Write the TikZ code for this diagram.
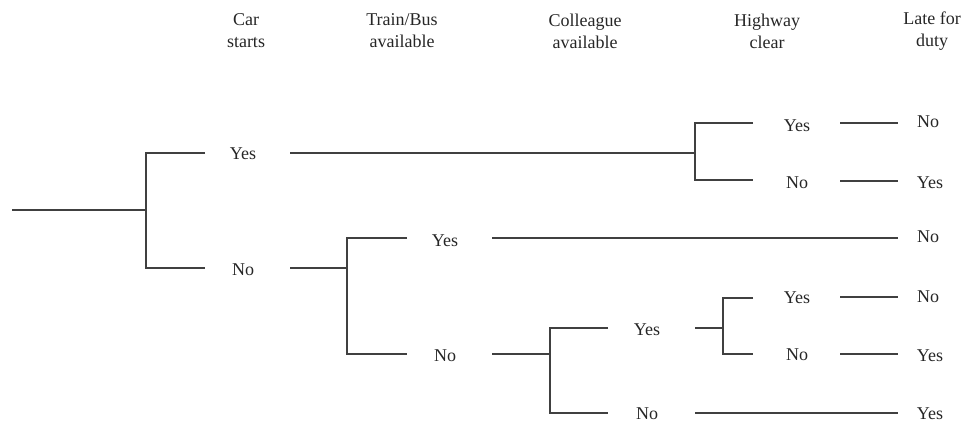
\documentclass[tikz,border=0pt]{standalone}
\usepackage{fontspec}
\setmainfont{Liberation Serif}
\begin{document}
\begin{tikzpicture}[x=1pt,y=-1pt,
  lbl/.style={inner sep=0pt, font=\fontsize{18}{22}\selectfont, text=black!85},
  hdr/.style={inner sep=0pt, align=center, font=\fontsize{18}{22}\selectfont, text=black!85},
  ln/.style={draw=black!75, line width=1.5pt}]
\useasboundingbox (0,0) rectangle (966,427);
% headers
\node[hdr] (h1) at (246,31) {Car\\starts};
\node[hdr] (h2) at (402,31) {Train/Bus\\available};
\node[hdr] (h3) at (585,31) {Colleague\\available};
\node[hdr] (h4) at (767,31) {Highway\\clear};
\node[hdr] (h5) at (932,31) {Late for\\duty};
% labels
\node[lbl] (cy) at (243,154) {Yes};
\node[lbl] (cn) at (243,270) {No};
\node[lbl] (ty) at (445,241) {Yes};
\node[lbl] (tn) at (445,356) {No};
\node[lbl] (oy) at (647,330) {Yes};
\node[lbl] (on) at (647,414) {No};
\node[lbl] (hy1) at (797,126) {Yes};
\node[lbl] (hn1) at (797,183) {No};
\node[lbl] (hy2) at (797,298) {Yes};
\node[lbl] (hn2) at (797,355) {No};
\node[lbl] (r1) at (928,122) {No};
\node[lbl] (r2) at (930,183) {Yes};
\node[lbl] (r3) at (928,237) {No};
\node[lbl] (r4) at (928,297) {No};
\node[lbl] (r5) at (930,356) {Yes};
\node[lbl] (r6) at (930,414) {Yes};
% coordinates
\coordinate (root) at (12,210);
\coordinate (j1) at (146,210);
\coordinate (j1a) at (146,153);
\coordinate (j1b) at (146,268);
\coordinate (e1a) at (205,153);
\coordinate (e1b) at (205,268);
% car yes -> highway
\coordinate (s2) at (290,153);
\coordinate (j2) at (695,153);
\coordinate (j2a) at (695,123);
\coordinate (j2b) at (695,180);
\coordinate (e2a) at (753,123);
\coordinate (e2b) at (753,180);
\coordinate (s3a) at (840,123);
\coordinate (t3a) at (898,123);
\coordinate (s3b) at (840,181);
\coordinate (t3b) at (898,181);
% car no -> train
\coordinate (s4) at (290,268);
\coordinate (j4) at (347,268);
\coordinate (j4a) at (347,238);
\coordinate (j4b) at (347,354);
\coordinate (e4a) at (407,238);
\coordinate (e4b) at (407,354);
\coordinate (s5) at (492,238);
\coordinate (t5) at (898,238);
% train no -> colleague
\coordinate (s6) at (492,354);
\coordinate (j6) at (550,354);
\coordinate (j6a) at (550,328);
\coordinate (j6b) at (550,413);
\coordinate (e6a) at (608,328);
\coordinate (e6b) at (608,413);
% colleague yes -> highway
\coordinate (s7) at (695,328);
\coordinate (j7) at (723,328);
\coordinate (j7a) at (723,298);
\coordinate (j7b) at (723,354);
\coordinate (e7a) at (753,298);
\coordinate (e7b) at (753,354);
\coordinate (s8a) at (840,297);
\coordinate (t8a) at (898,297);
\coordinate (s8b) at (840,354);
\coordinate (t8b) at (898,354);
% colleague no
\coordinate (s9) at (695,413);
\coordinate (t9) at (898,413);
% lines
\draw[ln] (root) -- (j1);
\draw[ln] (e1a) -- (j1a) -- (j1b) -- (e1b);
\draw[ln] (s2) -- (j2);
\draw[ln] (e2a) -- (j2a) -- (j2b) -- (e2b);
\draw[ln] (s3a) -- (t3a);
\draw[ln] (s3b) -- (t3b);
\draw[ln] (s4) -- (j4);
\draw[ln] (e4a) -- (j4a) -- (j4b) -- (e4b);
\draw[ln] (s5) -- (t5);
\draw[ln] (s6) -- (j6);
\draw[ln] (e6a) -- (j6a) -- (j6b) -- (e6b);
\draw[ln] (s7) -- (j7);
\draw[ln] (e7a) -- (j7a) -- (j7b) -- (e7b);
\draw[ln] (s8a) -- (t8a);
\draw[ln] (s8b) -- (t8b);
\draw[ln] (s9) -- (t9);
\end{tikzpicture}
\end{document}
